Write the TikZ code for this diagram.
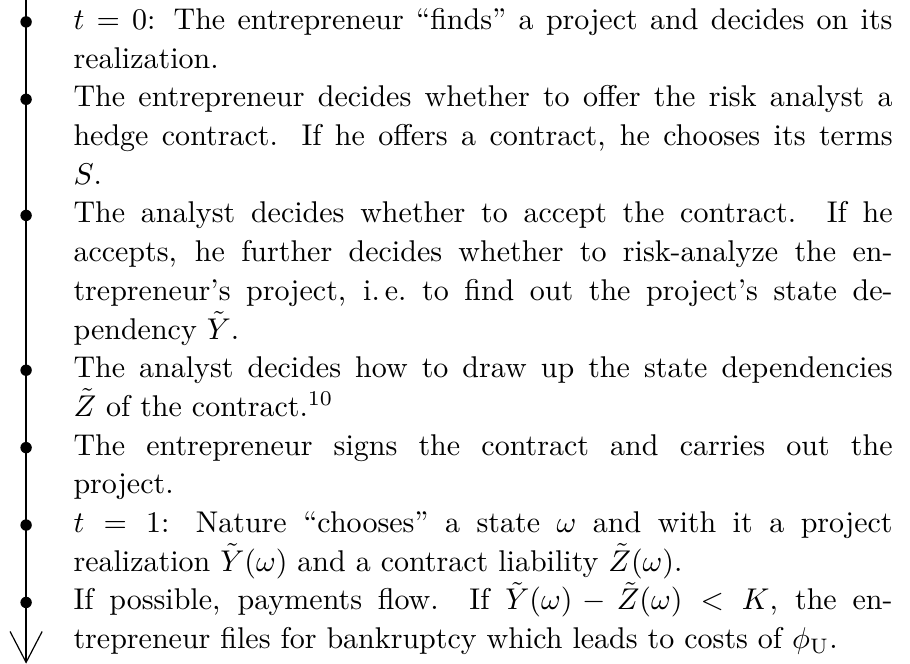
\documentclass[tikz,border=0pt]{standalone}
\usetikzlibrary{arrows.meta}
\tolerance=10000
\hbadness=10000
\tikzset{
  event/.style={anchor=base west, inner sep=0pt, text width=273pt, align=justify,
    font=\fontsize{10}{12.9}\selectfont},
  stage/.style={fill=black},
}
\begin{document}
\begin{tikzpicture}[x=1pt,y=1pt]
\useasboundingbox (0,0) rectangle (303.3,-221.3);
% time axis
\coordinate (top) at (8.7,0);
\coordinate (end) at (8.7,-221.2);
\draw[line width=0.7pt, -{Straight Barb[length=10.3pt,width=10.7pt,line width=0.4pt]}] (top) -- (end);

% stages
\node[event] (e1) at (24.3,-9.8) {$t=0$: The entrepreneur ``finds'' a project and decides on its\linebreak realization.};
\node[event] (e2) at (24.3,-35.6) {The entrepreneur decides whether to offer the risk analyst a\linebreak hedge contract. If he offers a contract, he chooses its terms\linebreak $S$.};
\node[event] (e3) at (24.3,-74.3) {The analyst decides whether to accept the contract. If he\linebreak accepts, he further decides whether to risk-analyze the en-\linebreak trepreneur's project, i.\,e.\ to find out the project's state de-\linebreak pendency $\tilde{Y}$.};
\node[event] (e4) at (24.3,-125.9) {The analyst decides how to draw up the state dependencies\linebreak $\tilde{Z}$ of the contract.\textsuperscript{10}};
\node[event] (e5) at (24.3,-151.7) {The entrepreneur signs the contract and carries out the\linebreak project.};
\node[event] (e6) at (24.3,-177.5) {$t=1$: Nature ``chooses'' a state $\omega$ and with it a project\linebreak realization $\tilde{Y}(\omega)$ and a contract liability $\tilde{Z}(\omega)$.};
\node[event] (e7) at (24.3,-203.3) {If possible, payments flow. If $\tilde{Y}(\omega)-\tilde{Z}(\omega)<K$, the en-\linebreak trepreneur files for bankruptcy which leads to costs of $\phi_{\mathrm{U}}$.};

\foreach \n in {1,...,7} {
    \fill[stage] (top |- e\n.base) ++(0,2.5) circle (1.9pt);
}
\end{tikzpicture}
\end{document}
